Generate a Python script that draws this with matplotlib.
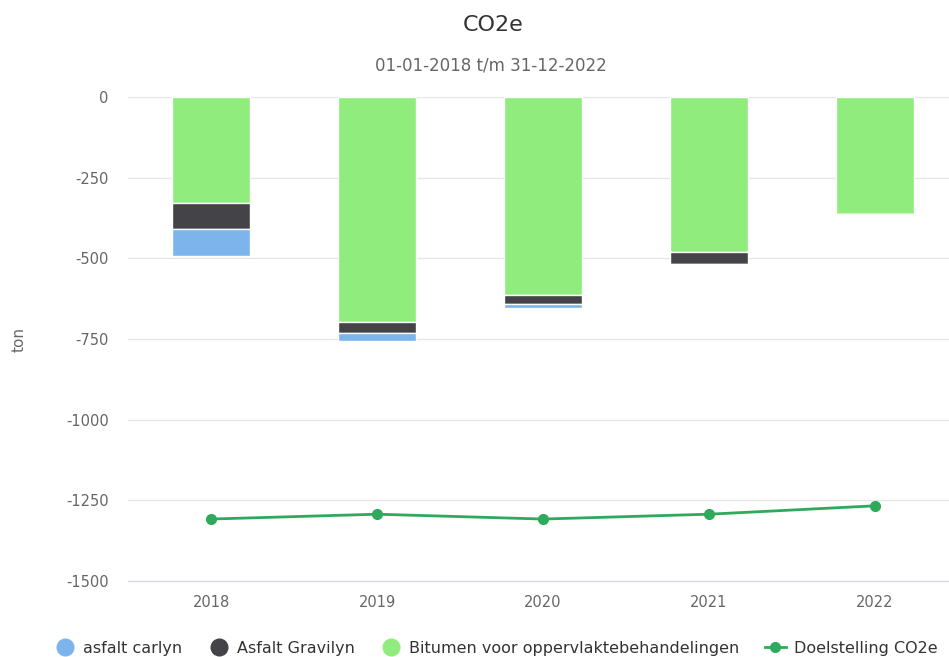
import matplotlib
matplotlib.use("Agg")
import matplotlib.pyplot as plt
from matplotlib.lines import Line2D
import numpy as np

years = ["2018", "2019", "2020", "2021", "2022"]
bitumen = [-330, -696, -614, -481, -363]
gravilyn = [-80, -34, -27, -37, 0]
carlyn = [-82, -26, -12, 0, 0]
doelstelling = [-1308, -1293, -1308, -1293, -1267]

C_CARLYN = "#7cb5ec"
C_GRAVILYN = "#434348"
C_BITUMEN = "#90ed7d"
C_LINE = "#2eaa5c"

fig = plt.figure(figsize=(9.49, 6.57), dpi=100)
ax = fig.add_axes([128 / 949, 76 / 657, 830 / 949, 484 / 657])

x = np.arange(len(years))
w = 0.47
b1 = np.array(bitumen, dtype=float)
b2 = b1 + np.array(gravilyn)
ax.bar(x, bitumen, w, color=C_BITUMEN, edgecolor="white", linewidth=1, zorder=2)
ax.bar(x, gravilyn, w, bottom=b1, color=C_GRAVILYN, edgecolor="white", linewidth=1, zorder=2)
ax.bar(x, carlyn, w, bottom=b2, color=C_CARLYN, edgecolor="white", linewidth=1, zorder=2)
ax.plot(x, doelstelling, color=C_LINE, lw=2, marker="o", ms=7, zorder=3)

ax.set_xlim(-0.5, len(years) - 0.5)
ax.set_ylim(-1500, 0)
ax.set_yticks(np.arange(-1500, 1, 250))
ax.set_yticklabels([str(v) for v in np.arange(-1500, 1, 250)])
ax.set_xticks(x)
ax.set_xticklabels(years)
ax.tick_params(axis="both", length=0, labelsize=10.5, labelcolor="#666666")
ax.tick_params(axis="x", pad=10)
ax.tick_params(axis="y", pad=14)
ax.grid(axis="y", color="#e6e6e6", lw=1, zorder=0)
ax.set_axisbelow(True)
for s in ["top", "right", "left"]:
    ax.spines[s].set_visible(False)
ax.spines["bottom"].set_color("#ccd6eb")
ax.set_ylabel("ton", fontsize=11, color="#666666", labelpad=28)

fig.text(493 / 949, 1 - 25 / 657, "CO2e", ha="center", va="center", fontsize=16, color="#333333")
fig.text(491 / 949, 1 - 66 / 657, "01-01-2018 t/m 31-12-2022", ha="center", va="center",
         fontsize=12, color="#666666")

handles = [
    Line2D([], [], ls="none", marker="o", ms=12, mfc=C_CARLYN, mec=C_CARLYN),
    Line2D([], [], ls="none", marker="o", ms=12, mfc=C_GRAVILYN, mec=C_GRAVILYN),
    Line2D([], [], ls="none", marker="o", ms=12, mfc=C_BITUMEN, mec=C_BITUMEN),
    Line2D([], [], color=C_LINE, lw=2, marker="o", ms=7),
]
labels = ["asfalt carlyn", "Asfalt Gravilyn", "Bitumen voor oppervlaktebehandelingen", "Doelstelling CO2e"]
fig.legend(handles, labels, loc="center", bbox_to_anchor=(496 / 949, 1 - 648 / 657), ncol=4,
           frameon=False, fontsize=11.5, handlelength=1.3, handletextpad=0.5, columnspacing=1.6,
           labelcolor="#333333")

fig.savefig("out.png", dpi=100)
